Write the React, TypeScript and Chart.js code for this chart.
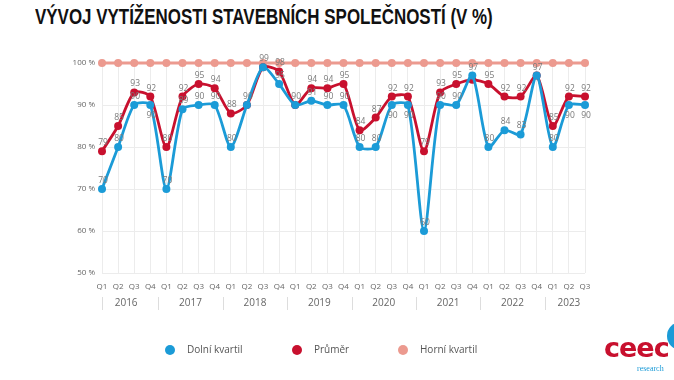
import React, { useEffect, useRef } from "react";
import { Chart, registerables } from "chart.js";

Chart.register(...registerables);

const years = ["2016", "2017", "2018", "2019", "2020", "2021", "2022", "2023"];
const quartersPerYear = [4, 4, 4, 4, 4, 4, 4, 3];
const quarterNames = ["Q1", "Q2", "Q3", "Q4"];

const dolniKvartil = [
  70, 80, 90, 90,
  70, 89, 90, 90,
  80, 90, 99, 95,
  90, 91, 90, 90,
  80, 80, 90, 90,
  60, 90, 90, 97,
  80, 84, 83, 97,
  80, 90, 90,
];
const prumer = [
  79, 85, 93, 92,
  80, 92, 95, 94,
  88, 90, 99, 98,
  90, 94, 94, 95,
  84, 87, 92, 92,
  79, 93, 95, 96,
  95, 92, 92, 97,
  85, 92, 92,
];
const horniKvartil = new Array(31).fill(100);
const yTicks = [50, 60, 70, 80, 90, 100];

const BLUE = "#1b9bd7";
const RED = "#c8102e";
const SALMON = "#ec9a8f";
const FONT = '"Open Sans", sans-serif';

const categories: string[] = [];
years.forEach((y, yi) => {
  for (let q = 0; q < quartersPerYear[yi]; q++) {
    categories.push(quarterNames[q] + " " + y);
  }
});

const pointLabelPlugin = {
  id: "pointLabels",
  afterDatasetsDraw(chart: any) {
    const ctx = chart.ctx;
    ctx.save();
    ctx.font = "8.5px " + FONT;
    ctx.fillStyle = "#7a7a7a";
    ctx.textAlign = "center";
    ctx.textBaseline = "alphabetic";
    [0, 1].forEach((di) => {
      const meta = chart.getDatasetMeta(di);
      meta.data.forEach((pt: any, i: number) => {
        const b = dolniKvartil[i];
        const r = prumer[i];
        const v = di === 0 ? b : r;
        if (di === 0 && b === r) return;
        if (di === 1 && b > r) return;
        const below = di === 0 && r - b > 0 && r - b <= 2;
        ctx.fillText(String(v), pt.x + 1, below ? pt.y + 13 : pt.y - 6);
      });
    });
    ctx.restore();
  },
};

const yearPlugin = {
  id: "yearRow",
  afterDraw(chart: any) {
    const ctx = chart.ctx;
    const xs = chart.scales.x;
    const bottom = chart.chartArea.bottom;
    ctx.save();
    ctx.font = "10px " + FONT;
    ctx.fillStyle = "#666";
    ctx.textAlign = "center";
    ctx.textBaseline = "middle";
    ctx.strokeStyle = "#dddddd";
    ctx.lineWidth = 1;
    let start = 0;
    years.forEach((y, yi) => {
      const n = quartersPerYear[yi];
      const x0 = xs.getPixelForValue(start);
      const x1 = xs.getPixelForValue(start + n - 1);
      ctx.fillText(y, (x0 + x1) / 2, bottom + 30);
      const sx = yi === 0 ? x0 : (x0 + xs.getPixelForValue(start - 1)) / 2;
      ctx.beginPath();
      ctx.moveTo(Math.round(sx) + 0.5, bottom + 24);
      ctx.lineTo(Math.round(sx) + 0.5, bottom + 37);
      ctx.stroke();
      start += n;
    });

    // legend
    const legendX = [170, 297, 403];
    const legendY = 350;
    ctx.font = "10px " + FONT;
    ctx.textAlign = "left";
    chart.data.datasets.forEach((ds: any, i: number) => {
      ctx.beginPath();
      ctx.fillStyle = ds.backgroundColor;
      ctx.arc(legendX[i], legendY, 5, 0, Math.PI * 2);
      ctx.fill();
      ctx.fillStyle = "#555";
      ctx.fillText(ds.label, legendX[i] + 17, legendY);
    });
    ctx.restore();
  },
};

export default function App() {
  const ref = useRef<HTMLCanvasElement>(null);
  useEffect(() => {
    if (!ref.current) return;
    const chart = new Chart(ref.current, {
      type: "line",
      data: {
        labels: categories,
        datasets: [
          {
            label: "Dolní kvartil",
            data: dolniKvartil,
            borderColor: BLUE,
            backgroundColor: BLUE,
            borderWidth: 2.8,
            pointRadius: 4,
            pointBorderWidth: 0,
            tension: 0.25,
            order: 1,
          },
          {
            label: "Průměr",
            data: prumer,
            borderColor: RED,
            backgroundColor: RED,
            borderWidth: 2.8,
            pointRadius: 4,
            pointBorderWidth: 0,
            tension: 0.25,
            order: 2,
          },
          {
            label: "Horní kvartil",
            data: horniKvartil,
            borderColor: SALMON,
            backgroundColor: SALMON,
            borderWidth: 2.8,
            pointRadius: 4,
            pointBorderWidth: 0,
            tension: 0,
            order: 3,
          },
        ],
      },
      options: {
        animation: false,
        responsive: false,
        clip: false as any,
        layout: { padding: { left: 62, right: 89, top: 63, bottom: 57 } },
        plugins: {
          title: { display: false },
          tooltip: { enabled: false },
          legend: { display: false },
        },
        scales: {
          x: {
            afterFit: (s: any) => {
              s.height = 50;
            },
            grid: { color: "#ececec", drawTicks: false },
            border: { display: false },
            ticks: {
              padding: 9,
              maxRotation: 0,
              autoSkip: false,
              color: "#666",
              font: { family: '"Open Sans", sans-serif', size: 8 },
              callback: (v: any) => categories[v as number].split(" ")[0],
            },
          },
          y: {
            min: 50,
            max: 100,
            afterFit: (s: any) => {
              s.width = 40;
            },
            afterBuildTicks: (s: any) => {
              s.ticks = yTicks.map((v) => ({ value: v }));
            },
            grid: { color: "#ececec", drawTicks: false },
            border: { display: false },
            ticks: {
              padding: 7,
              color: "#666",
              font: { family: '"Open Sans", sans-serif', size: 8 },
              callback: (v: any) => v + " %",
            },
          },
        },
      },
      plugins: [pointLabelPlugin, yearPlugin],
    });
    return () => chart.destroy();
  }, []);

  return (
    <div style={{ position: "fixed", left: 0, top: 0, width: 674, height: 380, background: "#fff", overflow: "hidden" }}>
      <div
        style={{
          position: "absolute",
          left: 35,
          top: 4,
          fontFamily: '"Liberation Sans", sans-serif',
          fontWeight: 700,
          fontSize: 22,
          color: "#111",
          whiteSpace: "nowrap",
          transform: "scaleX(0.77)",
          transformOrigin: "left top",
        }}
      >
        VÝVOJ VYTÍŽENOSTI STAVEBNÍCH SPOLEČNOSTÍ (V %)
      </div>
      <canvas ref={ref} width={674} height={380} style={{ position: "absolute", left: 0, top: 0 }} />
      <div
        style={{
          position: "absolute",
          left: 667,
          top: 322,
          width: 28,
          height: 28,
          borderRadius: 14,
          background: BLUE,
        }}
      />
      <div
        style={{
          position: "absolute",
          left: 604,
          top: 332,
          fontFamily: '"DejaVu Sans", sans-serif',
          fontWeight: 700,
          fontSize: 27,
          color: RED,
          letterSpacing: -1,
        }}
      >
        ceec
      </div>
      <div
        style={{
          position: "absolute",
          left: 637,
          top: 364,
          fontFamily: '"Liberation Serif", serif',
          fontSize: 8,
          color: BLUE,
        }}
      >
        research
      </div>
    </div>
  );
}
